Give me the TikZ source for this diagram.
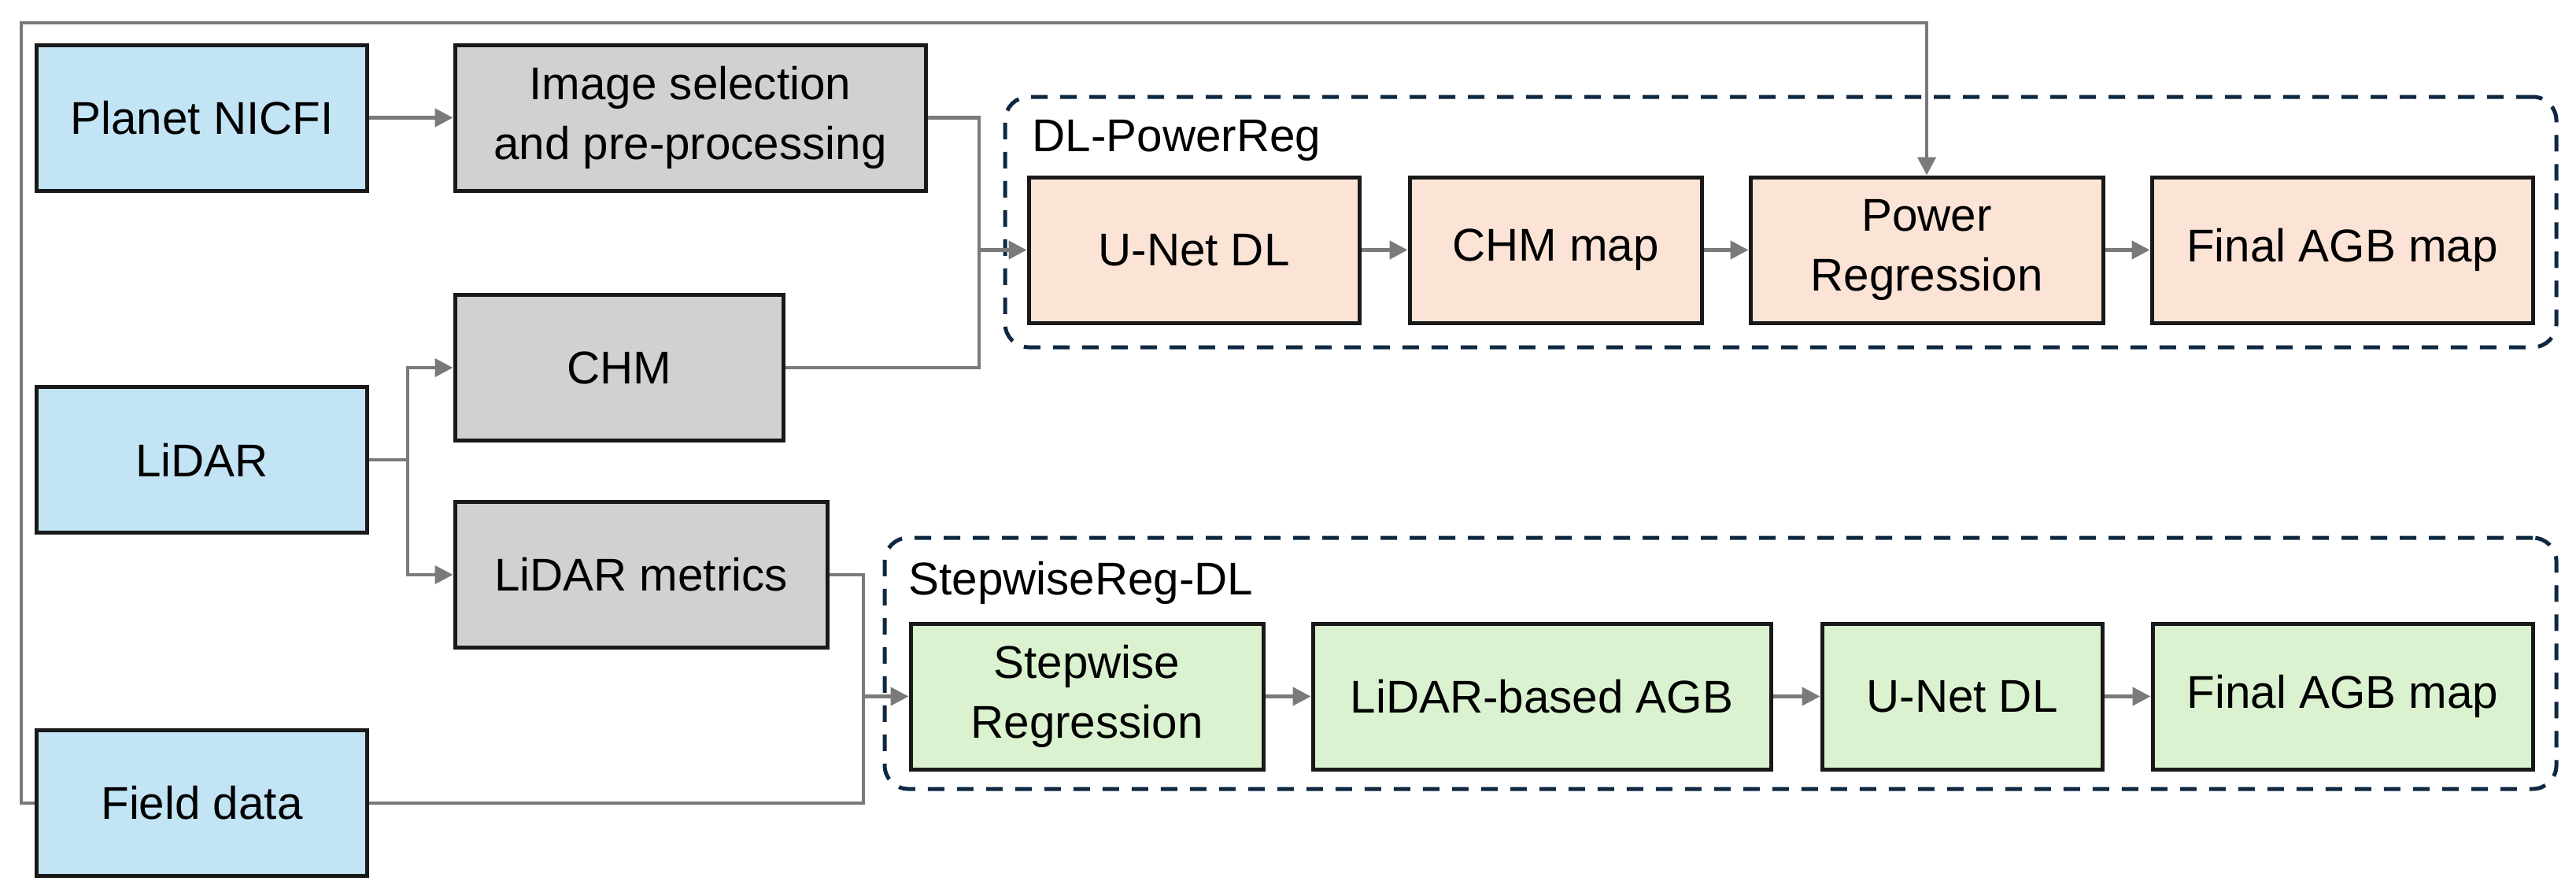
\documentclass[tikz,border=0pt]{standalone}
\usepackage{fontspec}
\setmainfont{Liberation Sans}
\usetikzlibrary{arrows.meta}
\definecolor{srcblue}{HTML}{C2E4F5}
\definecolor{prepgray}{HTML}{D1D1D1}
\definecolor{peach}{HTML}{FBE3D6}
\definecolor{mint}{HTML}{DAF2D0}
\definecolor{navy}{HTML}{0E2841}
\definecolor{wire}{HTML}{7A7A7A}

\begin{document}
\begin{tikzpicture}[
  x=1mm, y=1mm,
  box/.style={draw=black!90, line width=0.5mm, align=center, inner sep=0pt,
              minimum height=18.5mm, font=\fontsize{16.6}{21.5}\selectfont},
  src/.style={box, fill=srcblue},
  prep/.style={box, fill=prepgray},
  dlp/.style={box, fill=peach},
  swr/.style={box, fill=mint},
  grp/.style={draw=navy, line width=0.5mm, rounded corners=3mm,
              dash pattern=on 2.1mm off 1.6mm, inner sep=0pt},
  ttl/.style={anchor=base west, inner sep=0pt,
              font=\fontsize{16.6}{20}\selectfont},
  ln/.style={draw=wire, line width=0.45mm},
  arr/.style={ln, -{Triangle[length=2.3mm, width=2.3mm]}}]

\useasboundingbox (0,0) rectangle (327.3,-113.7);

% groups
\node[grp, minimum width=197.1mm, minimum height=31.8mm] (gpow) at (226.25,-28.2) {};
\node[grp, minimum width=212.4mm, minimum height=31.9mm] (gstep) at (218.6,-84.25) {};
\node[ttl] (tpow)  at (131.1,-19.2) {DL-PowerReg};
\node[ttl] (tstep) at (115.4,-75.5) {StepwiseReg-DL};

% inputs
\node[src, minimum width=41.9mm] (planet) at (25.65,-14.95) {Planet NICFI};
\node[src, minimum width=41.9mm] (lidar)  at (25.65,-58.4)  {LiDAR};
\node[src, minimum width=41.9mm] (field)  at (25.65,-102.0) {Field data};

\node[prep, minimum width=59.8mm] (imgsel)  at (87.7,-14.95) {Image selection\\and pre-processing};
\node[prep, minimum width=41.7mm] (chm)     at (78.65,-46.7) {CHM};
\node[prep, minimum width=47.3mm] (metrics) at (81.45,-73.0) {LiDAR metrics};

% DL-PowerReg
\node[dlp, minimum width=42.0mm] (unetA)  at (151.7,-31.75)  {U-Net DL};
\node[dlp, minimum width=37.1mm] (chmmap) at (197.65,-31.75) {CHM map};
\node[dlp, minimum width=44.8mm] (power)  at (244.8,-31.75)  {Power\\Regression};
\node[dlp, minimum width=48.4mm] (finalA) at (297.6,-31.75)  {Final AGB map};

% StepwiseReg-DL
\node[swr, minimum width=44.8mm] (stepreg) at (138.1,-88.45)  {Stepwise\\Regression};
\node[swr, minimum width=58.2mm] (lidagb)  at (195.9,-88.45)  {LiDAR-based AGB};
\node[swr, minimum width=35.6mm] (unetB)   at (249.3,-88.45)  {U-Net DL};
\node[swr, minimum width=48.3mm] (finalB)  at (297.65,-88.45) {Final AGB map};

\coordinate (jtop) at (124.4,-31.75);
\coordinate (jbot) at (109.7,-88.45);
\coordinate (ls)   at (51.8,-58.4);
\coordinate (tl)   at (2.7,-2.9);

\draw[arr] (planet) -- (imgsel);
\draw[ln]  (imgsel.east) -| (jtop);
\draw[ln]  (chm.east) -| (jtop);
\draw[arr] (jtop) -- (unetA);
\draw[ln]  (lidar.east) -- (ls);
\draw[arr] (ls) |- (chm.west);
\draw[arr] (ls) |- (metrics.west);
\draw[ln]  (metrics.east) -| (jbot);
\draw[ln]  (field.east) -| (jbot);
\draw[arr] (jbot) -- (stepreg);
\draw[arr] (field.west) -| (tl) -| (power.north);

\draw[arr] (unetA) -- (chmmap);
\draw[arr] (chmmap) -- (power);
\draw[arr] (power) -- (finalA);
\draw[arr] (stepreg) -- (lidagb);
\draw[arr] (lidagb) -- (unetB);
\draw[arr] (unetB) -- (finalB);
\end{tikzpicture}
\end{document}
